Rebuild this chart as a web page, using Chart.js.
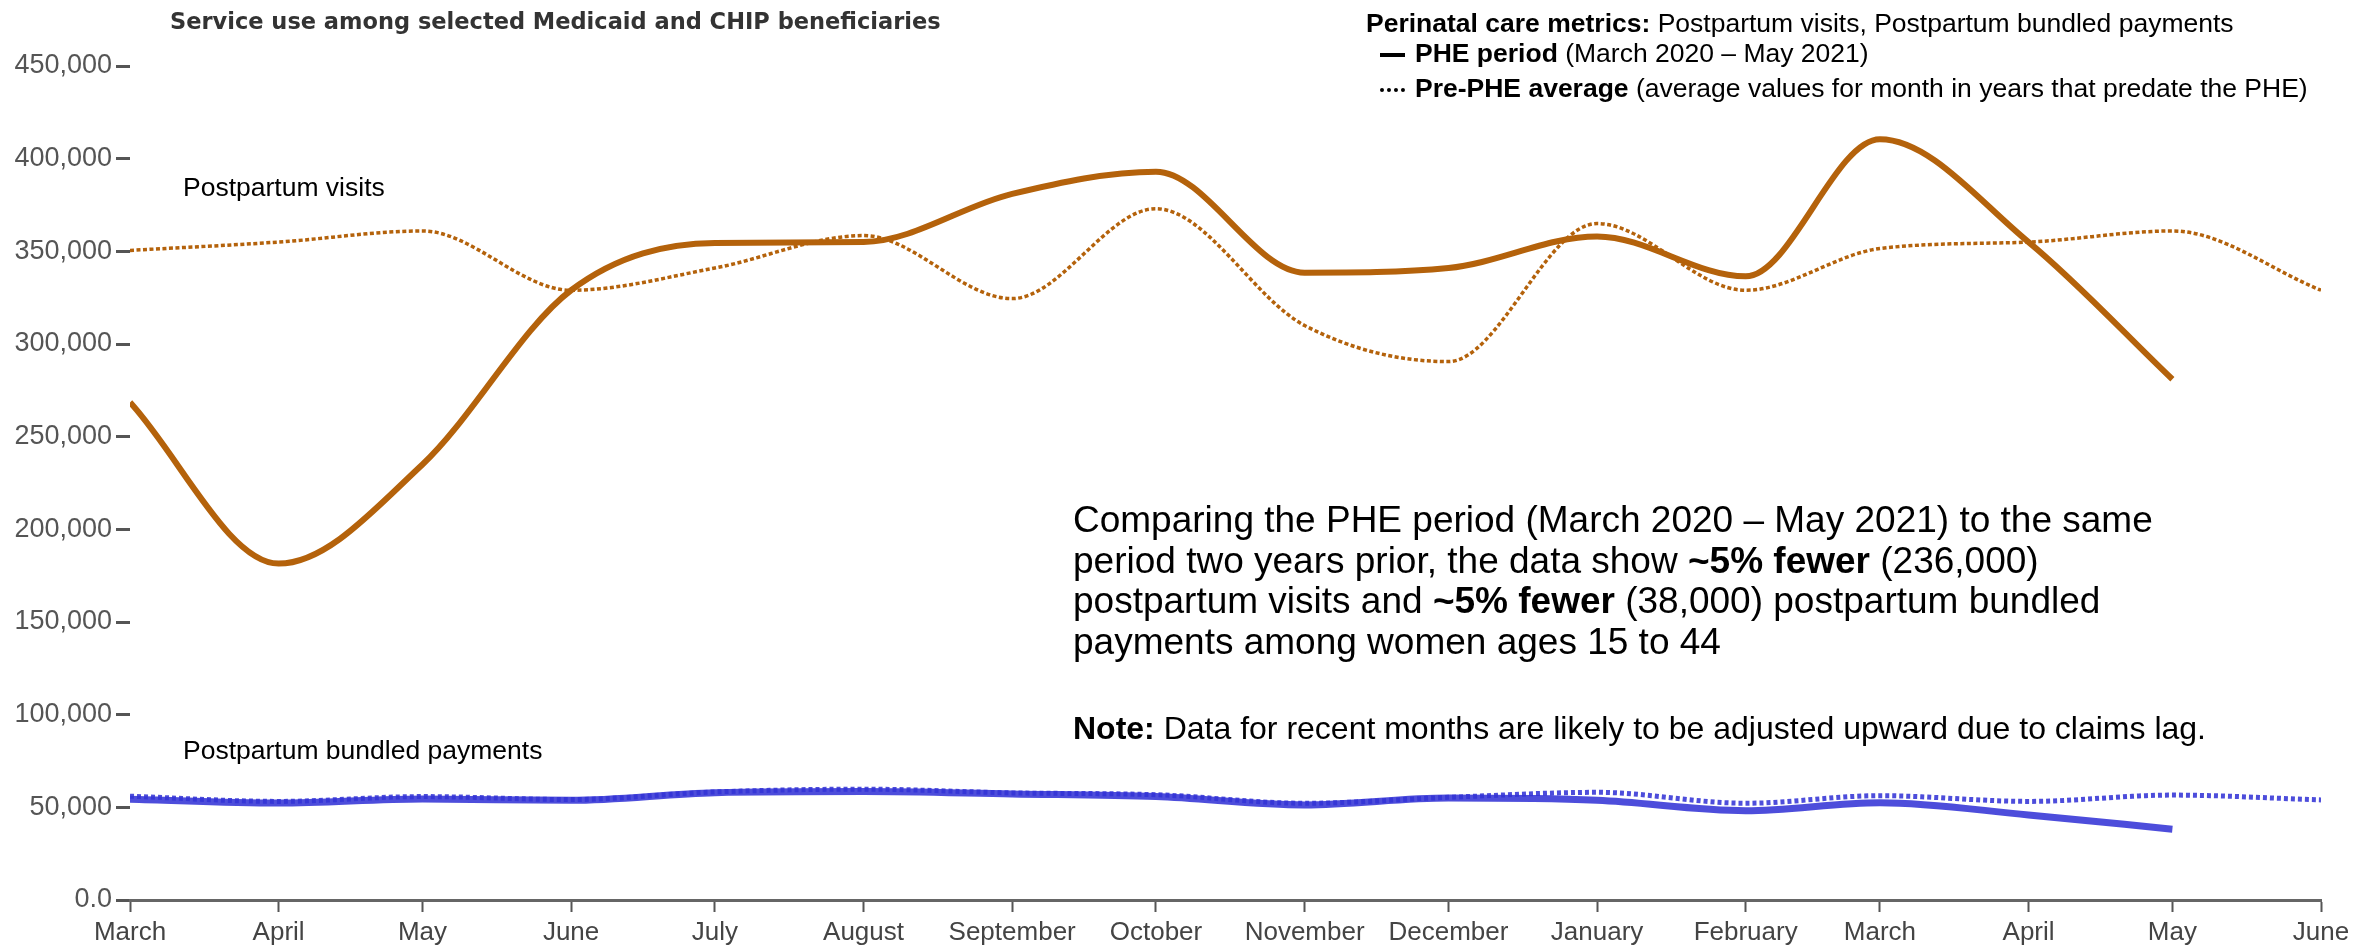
<!DOCTYPE html>
<html>
<head>
<meta charset="utf-8">
<script src="https://cdn.jsdelivr.net/npm/chart.js@4.4.1/dist/chart.umd.min.js"></script>
<style>
  html, body { margin: 0; padding: 0; background: #fff; }
  #wrap { position: relative; width: 2372px; height: 947px; font-family: "Liberation Sans", Arial, sans-serif; }
  canvas { position: absolute; left: 0; top: 0; }
  .t { position: absolute; white-space: nowrap; color: #000; }
  .title { left: 170px; top: 8px; font-family: "DejaVu Sans", sans-serif; font-size: 22.5px; font-weight: bold; color: #333; }
  .legend { left: 1366px; font-size: 26.5px; line-height: 30px; }
  .sym { display: inline-block; width: 25px; vertical-align: middle; margin-right: 10px; }
  .sym.solid { border-top: 4px solid #000; }
  .sym.dot { border-top: 4px dotted #000; }
  .series { left: 183px; font-size: 26.5px; line-height: 30px; }
  .para { left: 1073px; top: 500px; font-size: 37px; line-height: 40.5px; }
  .note { left: 1073px; top: 710px; font-size: 32px; line-height: 36px; }
</style>
</head>
<body>
<div id="wrap">
  <canvas id="c" width="2372" height="947"></canvas>
  <div class="t title">Service use among selected Medicaid and CHIP beneficiaries</div>
  <div class="t legend" style="top:8px"><b>Perinatal care metrics:</b> Postpartum visits, Postpartum bundled payments</div>
  <div class="t legend" style="top:38px; left:1380px"><span class="sym solid"></span><b>PHE period</b> (March 2020 – May 2021)</div>
  <div class="t legend" style="top:73px; left:1380px"><span class="sym dot"></span><b>Pre-PHE average</b> (average values for month in years that predate the PHE)</div>
  <div class="t series" style="top:172px">Postpartum visits</div>
  <div class="t series" style="top:735px">Postpartum bundled payments</div>
  <div class="t para">Comparing the PHE period (March 2020 – May 2021) to the same<br>period two years prior, the data show <b>~5% fewer</b> (236,000)<br>postpartum visits and <b>~5% fewer</b> (38,000) postpartum bundled<br>payments among women ages 15 to 44</div>
  <div class="t note"><b>Note:</b> Data for recent months are likely to be adjusted upward due to claims lag.</div>
</div>
<script>
// Month labels, March 2020 through June 2021
const monthLabels = ['March','April','May','June','July','August','September','October',
  'November','December','January','February','March','April','May','June'];

// Postpartum visits
const visitsPHE = [268500, 181500, 235000, 329000, 354500, 355000, 381000, 393000,
  338500, 341000, 358000, 336500, 410500, 355000, 281000];
const visitsPrePHE = [350500, 355000, 361000, 329000, 341000, 358500, 324500, 373000,
  310000, 290500, 365000, 329000, 351500, 355000, 361000, 329000];

// Postpartum bundled payments
const bundledPHE = [54400, 52300, 54500, 53800, 57900, 58500, 57200, 55800,
  51300, 55000, 53800, 48200, 52500, 45900, 38200];
const bundledPrePHE = [56000, 53200, 55800, 54200, 58300, 59800, 57800, 56800,
  52200, 55400, 58100, 52200, 56300, 53200, 56600, 54000];

const yTicks = [0, 50000, 100000, 150000, 200000, 250000, 300000, 350000, 400000, 450000];

// Day offset of the first of each month from 1 March 2020 (time-proportional axis)
const DAY = 86400000;
const origin = Date.UTC(2020, 2, 1);
const monthDays = monthLabels.map((_, i) => (Date.UTC(2020, 2 + i, 1) - origin) / DAY);

const toPoints = vals => vals.map((v, i) => ({ x: monthDays[i], y: v }));

const ORANGE = '#B4620B';
const BLUE = 'rgba(52, 52, 214, 0.88)';

new Chart(document.getElementById('c'), {
  type: 'line',
  data: {
    datasets: [
      { data: toPoints(visitsPrePHE), borderColor: ORANGE, borderWidth: 3.5, borderDash: [4, 2.5] },
      { data: toPoints(visitsPHE), borderColor: ORANGE, borderWidth: 6 },
      { data: toPoints(bundledPrePHE), borderColor: BLUE, borderWidth: 5, borderDash: [4, 3] },
      { data: toPoints(bundledPHE), borderColor: BLUE, borderWidth: 7 }
    ]
  },
  options: {
    responsive: false,
    animation: false,
    events: [],
    layout: { padding: { top: 66, right: 51, left: 0, bottom: 0 } },
    elements: {
      point: { radius: 0 },
      line: { cubicInterpolationMode: 'monotone', borderCapStyle: 'butt', fill: false }
    },
    plugins: { legend: { display: false }, tooltip: { enabled: false } },
    scales: {
      x: {
        type: 'linear',
        min: monthDays[0],
        max: monthDays[monthDays.length - 1],
        afterBuildTicks: s => { s.ticks = monthDays.map(v => ({ value: v })); },
        afterFit: s => { s.height = 47; },
        border: { display: true, color: '#666', width: 3 },
        grid: { drawOnChartArea: false, drawTicks: true, tickLength: 12, tickWidth: 2, tickColor: '#555' },
        ticks: {
          autoSkip: false, maxRotation: 0, padding: 5,
          color: '#444', font: { family: 'Liberation Sans', size: 26 },
          callback: (v, i) => monthLabels[i]
        }
      },
      y: {
        min: 0, max: 450000,
        afterBuildTicks: s => { s.ticks = yTicks.map(v => ({ value: v })); },
        afterFit: s => { s.width = 130; },
        border: { display: false },
        grid: { drawOnChartArea: false, drawTicks: true, tickLength: 14, tickWidth: 3, tickColor: '#555' },
        ticks: {
          padding: 4,
          color: '#555', font: { family: 'Liberation Sans', size: 27 },
          callback: v => v === 0 ? '0.0' : v.toLocaleString('en-US')
        }
      }
    }
  }
});
</script>
</body>
</html>
